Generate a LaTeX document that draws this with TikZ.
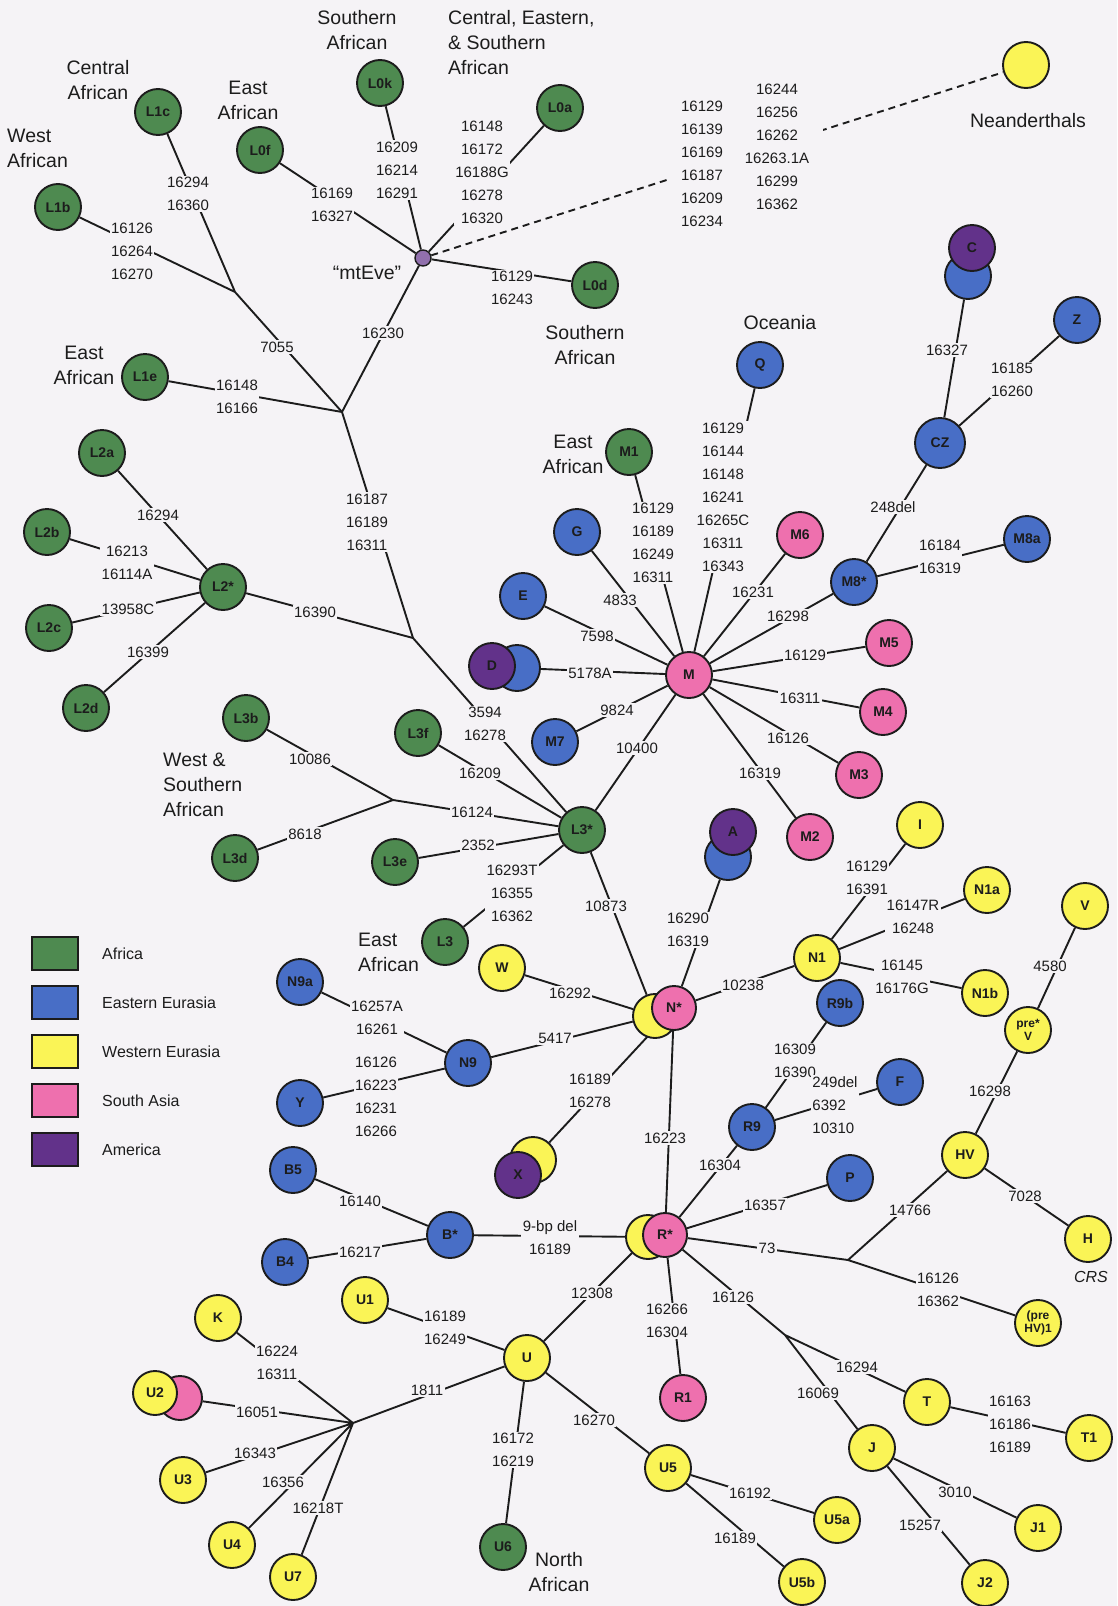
\documentclass[tikz,border=0pt]{standalone}
\usepackage{fontspec}
\setmainfont{Liberation Sans}
\definecolor{afr}{RGB}{78,138,80}
\definecolor{eeu}{RGB}{72,110,198}
\definecolor{weu}{RGB}{250,244,86}
\definecolor{sas}{RGB}{238,112,174}
\definecolor{ame}{RGB}{98,50,138}
\definecolor{paper}{RGB}{245,243,246}
\definecolor{ink}{RGB}{28,28,28}
\pgfdeclarelayer{links}
\pgfsetlayers{links,main}
\tikzset{
  hap/.style={circle,draw=ink,line width=1.9pt,minimum size=46pt,inner sep=0pt,
    font=\fontsize{14}{14}\selectfont\bfseries,text=ink},
  small/.style={font=\fontsize{12}{13}\selectfont\bfseries,align=center},
  mut/.style={fill=paper,inner sep=1.5pt,align=center,font=\fontsize{15}{23}\selectfont,text=ink},
  reg/.style={inner sep=0pt,align=center,font=\fontsize{19.5}{25}\selectfont,text=ink},
  link/.style={draw=ink,line width=1.9pt}
}
\begin{document}
\begin{tikzpicture}[x=1pt,y=-1pt]
\useasboundingbox (0,0) rectangle (1117,1606);
\node[hap,fill=afr] (L1b) at (58,207) {L1b};
\node[hap,fill=afr] (L1c) at (158,112) {L1c};
\node[hap,fill=afr] (L0f) at (260,150) {L0f};
\node[hap,fill=afr] (L0k) at (380,83) {L0k};
\node[hap,fill=afr] (L0a) at (560,108) {L0a};
\node[hap,fill=afr] (L0d) at (595,285) {L0d};
\node[hap,fill=afr] (L1e) at (145,377) {L1e};
\node[hap,fill=afr] (L2a) at (102,453) {L2a};
\node[hap,fill=afr] (L2b) at (47,532) {L2b};
\node[hap,fill=afr] (L2s) at (223,587) {L2*};
\node[hap,fill=afr] (L2c) at (49,628) {L2c};
\node[hap,fill=afr] (L2d) at (86,708) {L2d};
\node[hap,fill=afr] (L3b) at (246,718) {L3b};
\node[hap,fill=afr] (L3f) at (418,733) {L3f};
\node[hap,fill=afr] (L3d) at (235,858) {L3d};
\node[hap,fill=afr] (L3e) at (395,862) {L3e};
\node[hap,fill=afr] (L3s) at (582,830) {L3*};
\node[hap,fill=afr] (L3) at (445,942) {L3};
\node[hap,fill=afr] (M1) at (629,452) {M1};
\node[hap,fill=afr] (U6) at (503,1547) {U6};
\node[circle,draw=ink,line width=1.4pt,fill=ame!70,minimum size=16pt,inner sep=0pt] (eve) at (423,258) {};
\node[hap,fill=weu] (nean) at (1026,65) {};
\node[hap,fill=eeu] (Q) at (760,365) {Q};
\node[hap,fill=eeu] (Cb) at (968,276) {};
\node[hap,fill=ame] (C) at (972,248) {C};
\node[hap,fill=eeu] (Z) at (1077,320) {Z};
\node[hap,fill=eeu,minimum size=50pt] (CZ) at (940,443) {CZ};
\node[hap,fill=eeu] (M8a) at (1027,539) {M8a};
\node[hap,fill=eeu] (M8s) at (854,582) {M8*};
\node[hap,fill=eeu] (G) at (577,532) {G};
\node[hap,fill=eeu] (E) at (523,596) {E};
\node[hap,fill=eeu] (Db) at (517,668) {};
\node[hap,fill=ame] (D) at (492,666) {D};
\node[hap,fill=eeu] (M7) at (555,742) {M7};
\node[hap,fill=eeu] (Ab) at (728,857) {};
\node[hap,fill=ame] (A) at (733,832) {A};
\node[hap,fill=eeu] (N9a) at (300,982) {N9a};
\node[hap,fill=eeu] (N9) at (468,1063) {N9};
\node[hap,fill=eeu] (Y) at (300,1103) {Y};
\node[hap,fill=eeu] (B5) at (293,1170) {B5};
\node[hap,fill=eeu] (Bs) at (450,1235) {B*};
\node[hap,fill=eeu] (B4) at (285,1262) {B4};
\node[hap,fill=eeu] (R9b) at (840,1003) {R9b};
\node[hap,fill=eeu] (R9) at (752,1127) {R9};
\node[hap,fill=eeu] (F) at (900,1082) {F};
\node[hap,fill=eeu] (P) at (850,1178) {P};
\node[hap,fill=weu] (Xb) at (533,1160) {};
\node[hap,fill=ame] (X) at (518,1175) {X};
\node[hap,fill=sas] (M) at (689,675) {M};
\node[hap,fill=sas] (M6) at (800,535) {M6};
\node[hap,fill=sas] (M5) at (889,643) {M5};
\node[hap,fill=sas] (M4) at (883,712) {M4};
\node[hap,fill=sas] (M3) at (859,775) {M3};
\node[hap,fill=sas] (M2) at (810,837) {M2};
\node[hap,fill=weu,minimum size=44pt] (Nb) at (655,1016) {};
\node[hap,fill=sas,minimum size=44pt] (Ns) at (674,1008) {N*};
\node[hap,fill=weu,minimum size=44pt] (Rb) at (648,1237) {};
\node[hap,fill=sas,minimum size=44pt] (Rs) at (665,1235) {R*};
\node[hap,fill=sas] (R1) at (683,1398) {R1};
\node[hap,fill=sas,minimum size=44pt] (U2b) at (180,1398) {};
\node[hap,fill=weu,minimum size=44pt] (U2) at (155,1393) {U2};
\node[hap,fill=weu] (I) at (920,825) {I};
\node[hap,fill=weu] (N1a) at (987,890) {N1a};
\node[hap,fill=weu] (V) at (1085,906) {V};
\node[hap,fill=weu] (N1) at (817,958) {N1};
\node[hap,fill=weu] (N1b) at (985,993) {N1b};
\node[hap,fill=weu,small] (preV) at (1028,1030) {pre*\\V};
\node[hap,fill=weu] (HV) at (965,1155) {HV};
\node[hap,fill=weu] (W) at (502,968) {W};
\node[hap,fill=weu] (H) at (1088,1239) {H};
\node[hap,fill=weu,small] (pHV) at (1038,1323) {(pre\\HV)1};
\node[hap,fill=weu] (T) at (927,1402) {T};
\node[hap,fill=weu] (T1) at (1089,1438) {T1};
\node[hap,fill=weu] (J) at (872,1448) {J};
\node[hap,fill=weu] (J1) at (1038,1528) {J1};
\node[hap,fill=weu] (J2) at (985,1583) {J2};
\node[hap,fill=weu] (U5a) at (837,1520) {U5a};
\node[hap,fill=weu] (U5b) at (802,1582) {U5b};
\node[hap,fill=weu] (U5) at (668,1468) {U5};
\node[hap,fill=weu] (U) at (527,1358) {U};
\node[hap,fill=weu] (U1) at (365,1300) {U1};
\node[hap,fill=weu] (K) at (218,1318) {K};
\node[hap,fill=weu] (U3) at (183,1480) {U3};
\node[hap,fill=weu] (U4) at (232,1545) {U4};
\node[hap,fill=weu] (U7) at (293,1577) {U7};
\coordinate (j1) at (235,292);
\coordinate (j2) at (342,412);
\coordinate (j3) at (413,638);
\coordinate (j4) at (393,800);
\coordinate (j5) at (848,1260);
\coordinate (j6) at (785,1335);
\coordinate (j7) at (353,1423);
\node[reg,align=left,anchor=west] (westAf) at (7,148) {West\\African};
\node[reg] (centAf) at (98,80) {Central\\African};
\node[reg] (eastAf) at (248,100) {East\\African};
\node[reg] (southAf) at (357,30) {Southern\\African};
\node[reg,align=left,anchor=west] (cesAf) at (448,43) {Central, Eastern,\\\& Southern\\African};
\node[reg] (neanLab) at (1028,121) {Neanderthals};
\node[reg] (southAfb) at (585,345) {Southern\\African};
\node[reg] (oceania) at (780,323) {Oceania};
\node[reg] (eastAfb) at (84,365) {East\\African};
\node[reg] (eastAfc) at (573,454) {East\\African};
\node[reg,align=left,anchor=west] (wsAf) at (163,785) {West \&\\Southern\\African};
\node[reg,align=left,anchor=west] (eastAfd) at (358,952) {East\\African};
\node[reg] (northAf) at (559,1572) {North\\African};
\node[reg,font=\fontsize{16}{16}\selectfont\itshape] (crs) at (1091,1277) {CRS};
\node[reg] (eveLab) at (367,273) {“mtEve”};
\foreach \c/\t [count=\i from 0] in {afr/Africa,eeu/Eastern Eurasia,weu/Western Eurasia,sas/South Asia,ame/America}{
  \draw[draw=ink,line width=1.9pt,fill=\c] (32,{937+49*\i}) rectangle ++(46,33);
  \node[anchor=west,inner sep=0pt,font=\fontsize{16}{16}\selectfont,text=ink] (key\i) at (102,{954+49*\i}) {\t};
}
\begin{pgfonlayer}{links}
\fill[paper] (0,0) rectangle (1117,1606);
\begin{scope}[link]
\draw (L1b) -- (j1) (L1c) -- (j1) (j1) -- (j2);
\draw (L0f) -- (eve) (L0k) -- (eve) (L0a) -- (eve) (eve) -- (L0d);
\draw[dash pattern=on 7pt off 5pt] (eve) -- (nean);
\draw (eve) -- (j2) (L1e) -- (j2) (j2) -- (j3);
\draw (L2a) -- (L2s) (L2b) -- (L2s) (L2c) -- (L2s) (L2d) -- (L2s) (L2s) -- (j3);
\draw (j3) -- (L3s) (L3b) -- (j4) (L3d) -- (j4) (j4) -- (L3s);
\draw (L3e) -- (L3s) (L3f) -- (L3s) (L3) -- (L3s) (L3s) -- (M);
\draw (M7) -- (M) (Db) -- (M) (E) -- (M) (G) -- (M) (M1) -- (M) (Q) -- (M);
\draw (M6) -- (M) (M8s) -- (M) (M5) -- (M) (M4) -- (M) (M3) -- (M) (M2) -- (M);
\draw (CZ) -- (M8s) (Cb) -- (CZ) (Z) -- (CZ) (M8a) -- (M8s);
\draw (L3s) -- (Nb) (Ab) -- (Ns) (W) -- (Nb) (N9) -- (Nb) (Xb) -- (Ns) (N1) -- (Ns) (Ns) -- (Rs);
\draw (N9a) -- (N9) (Y) -- (N9);
\draw (R9b) -- (R9) (F) -- (R9) (R9) -- (Rs);
\draw (N1) -- (I) (N1) -- (N1a) (N1) -- (N1b);
\draw (V) -- (preV) (preV) -- (HV) (HV) -- (H) (HV) -- (j5) (Rs) -- (j5) (j5) -- (pHV);
\draw (Rs) -- (P) (Rs) -- (j6) (j6) -- (T) (j6) -- (J) (T) -- (T1) (J) -- (J1) (J) -- (J2);
\draw (U) -- (Rb) (Rs) -- (R1) (Bs) -- (Rb) (B5) -- (Bs) (B4) -- (Bs);
\draw (U1) -- (U) (j7) -- (U) (U) -- (U6) (U) -- (U5) (U5) -- (U5a) (U5) -- (U5b);
\draw (K) -- (j7) (U2b) -- (j7) (U3) -- (j7) (U4) -- (j7) (U7) -- (j7);
\end{scope}
\node[mut] (m1) at (132,251) {16126\\16264\\16270};
\node[mut] (m2) at (188,194) {16294\\16360};
\node[mut] (m3) at (277,347) {7055};
\node[mut] (m4) at (332,205) {16169\\16327};
\node[mut] (m5) at (397,170) {16209\\16214\\16291};
\node[mut] (m6) at (482,172) {16148\\16172\\16188G\\16278\\16320};
\node[mut] (m7) at (512,288) {16129\\16243};
\node[mut,inner xsep=14pt] (m8) at (702,164) {16129\\16139\\16169\\16187\\16209\\16234};
\node[mut,inner xsep=14pt] (m9) at (777,147) {16244\\16256\\16262\\16263.1A\\16299\\16362};
\node[mut] (m10) at (383,333) {16230};
\node[mut] (m11) at (237,397) {16148\\16166};
\node[mut] (m12) at (367,522) {16187\\16189\\16311};
\node[mut] (m13) at (158,515) {16294};
\node[mut] (m14) at (127,563) {16213\\16114A};
\node[mut] (m15) at (128,609) {13958C};
\node[mut] (m16) at (148,652) {16399};
\node[mut] (m17) at (315,612) {16390};
\node[mut] (m18) at (485,724) {3594\\16278};
\node[mut] (m19) at (310,759) {10086};
\node[mut] (m20) at (305,834) {8618};
\node[mut] (m21) at (472,812) {16124};
\node[mut] (m22) at (478,845) {2352};
\node[mut] (m23) at (480,773) {16209};
\node[mut] (m24) at (512,893) {16293T\\16355\\16362};
\node[mut] (m25) at (637,748) {10400};
\node[mut] (m26) at (617,710) {9824};
\node[mut] (m27) at (590,673) {5178A};
\node[mut] (m28) at (597,636) {7598};
\node[mut] (m29) at (620,600) {4833};
\node[mut] (m30) at (653,543) {16129\\16189\\16249\\16311};
\node[mut] (m31) at (723,497) {16129\\16144\\16148\\16241\\16265C\\16311\\16343};
\node[mut] (m32) at (753,592) {16231};
\node[mut] (m33) at (788,616) {16298};
\node[mut] (m34) at (805,655) {16129};
\node[mut] (m35) at (800,698) {16311};
\node[mut] (m36) at (788,738) {16126};
\node[mut] (m37) at (760,773) {16319};
\node[mut] (m38) at (893,507) {248del};
\node[mut] (m39) at (947,350) {16327};
\node[mut] (m40) at (1012,380) {16185\\16260};
\node[mut] (m41) at (940,557) {16184\\16319};
\node[mut] (m42) at (606,906) {10873};
\node[mut] (m43) at (688,930) {16290\\16319};
\node[mut] (m44) at (570,993) {16292};
\node[mut] (m45) at (555,1038) {5417};
\node[mut] (m46) at (590,1091) {16189\\16278};
\node[mut] (m47) at (665,1138) {16223};
\node[mut] (m48) at (743,985) {10238};
\node[mut] (m49) at (795,1061) {16309\\16390};
\node[mut,align=left] (m50) at (835,1105) {249del\\6392\\10310};
\node[mut] (m51) at (720,1165) {16304};
\node[mut] (m52) at (867,878) {16129\\16391};
\node[mut] (m53) at (913,917) {16147R\\16248};
\node[mut] (m54) at (902,977) {16145\\16176G};
\node[mut] (m55) at (1050,966) {4580};
\node[mut] (m56) at (990,1091) {16298};
\node[mut] (m57) at (1025,1196) {7028};
\node[mut] (m58) at (910,1210) {14766};
\node[mut] (m59) at (767,1248) {73};
\node[mut] (m60) at (938,1290) {16126\\16362};
\node[mut] (m61) at (765,1205) {16357};
\node[mut] (m62) at (733,1297) {16126};
\node[mut] (m63) at (857,1367) {16294};
\node[mut] (m64) at (818,1393) {16069};
\node[mut] (m65) at (1010,1424) {16163\\16186\\16189};
\node[mut] (m66) at (955,1492) {3010};
\node[mut] (m67) at (920,1525) {15257};
\node[mut] (m68) at (592,1293) {12308};
\node[mut] (m69) at (667,1321) {16266\\16304};
\node[mut] (m70) at (550,1238) {9-bp del\\16189};
\node[mut] (m71) at (445,1328) {16189\\16249};
\node[mut] (m72) at (427,1390) {1811};
\node[mut] (m73) at (513,1450) {16172\\16219};
\node[mut] (m74) at (594,1420) {16270};
\node[mut] (m75) at (750,1493) {16192};
\node[mut] (m76) at (735,1538) {16189};
\node[mut] (m77) at (377,1018) {16257A\\16261};
\node[mut] (m78) at (376,1097) {16126\\16223\\16231\\16266};
\node[mut] (m79) at (360,1201) {16140};
\node[mut] (m80) at (360,1252) {16217};
\node[mut] (m81) at (277,1363) {16224\\16311};
\node[mut] (m82) at (257,1412) {16051};
\node[mut] (m83) at (255,1453) {16343};
\node[mut] (m84) at (283,1482) {16356};
\node[mut] (m85) at (318,1508) {16218T};
\end{pgfonlayer}
\end{tikzpicture}
\end{document}
